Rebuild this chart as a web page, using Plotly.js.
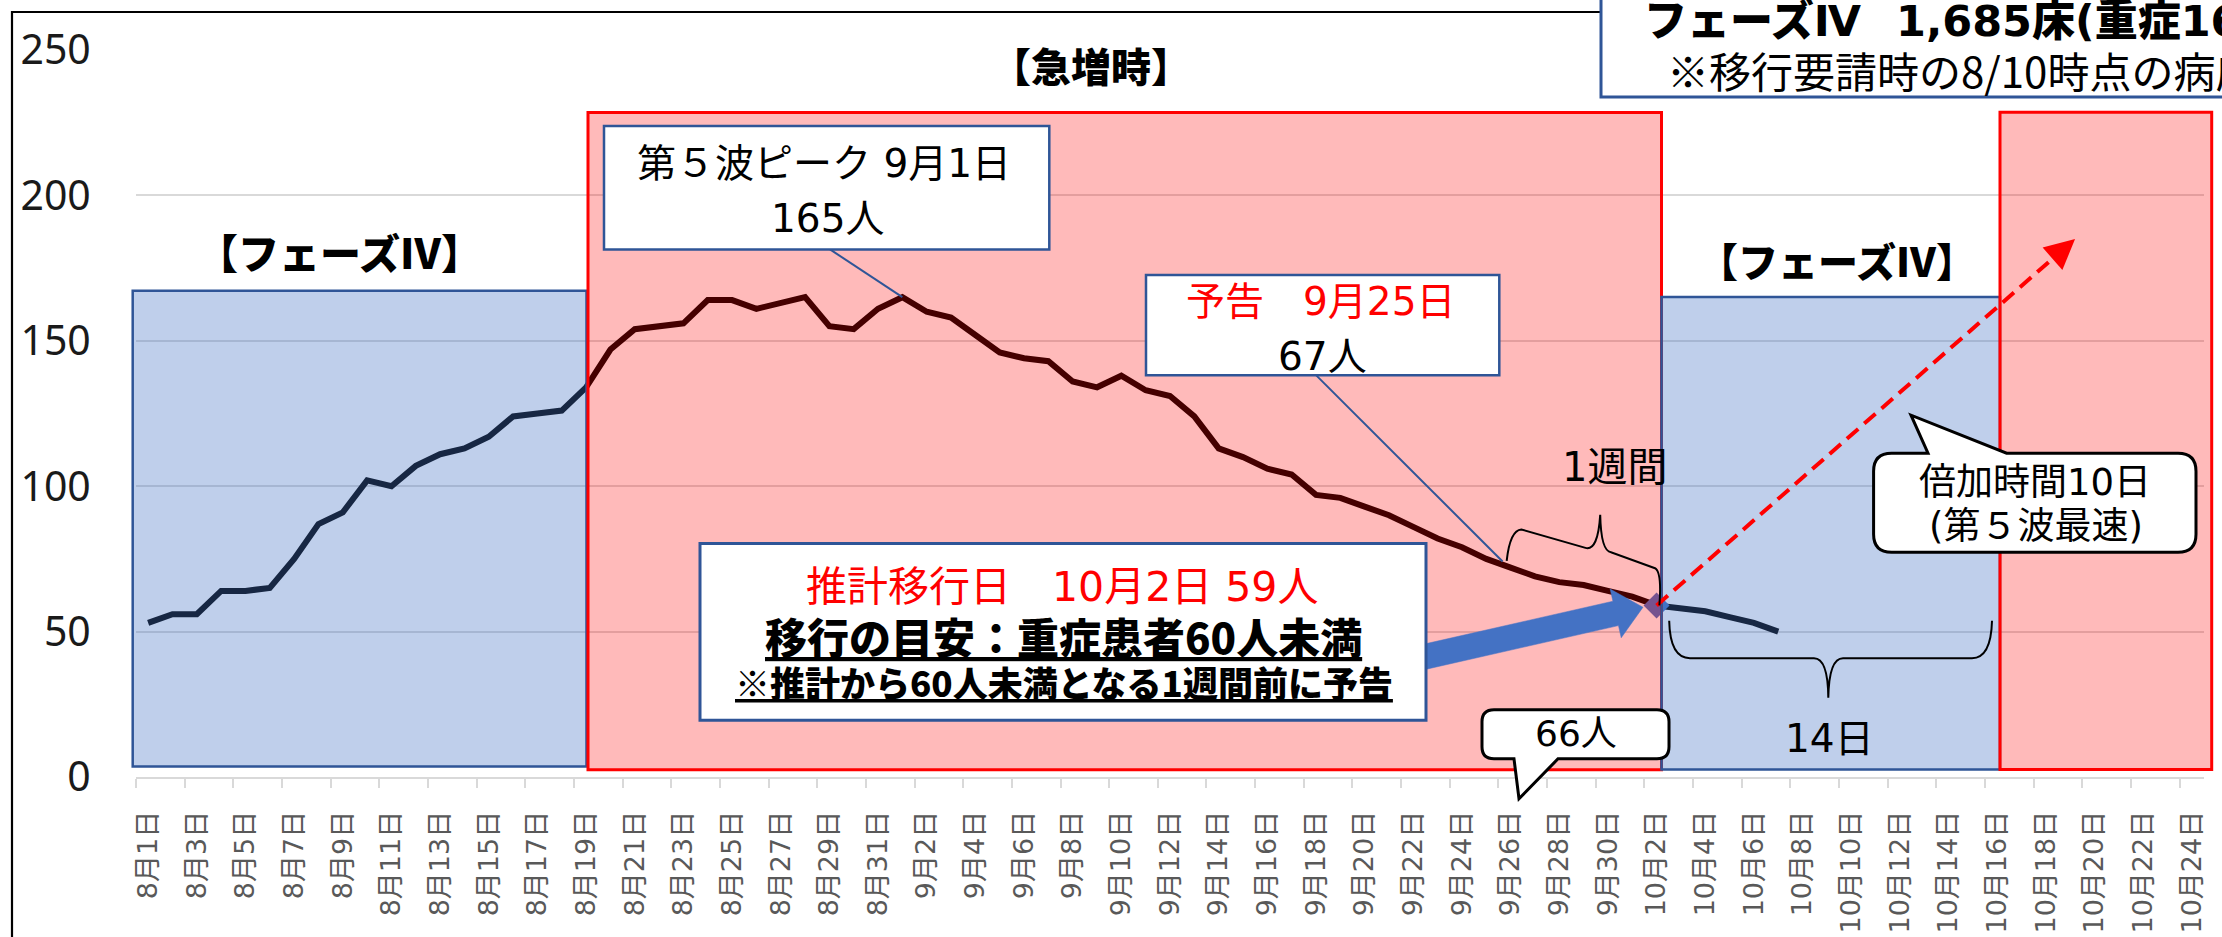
<!DOCTYPE html>
<html><head><meta charset="utf-8">
<script src="https://cdn.plot.ly/plotly-3.0.1.min.js"></script>
<style>html,body{margin:0;padding:0;background:#fff;}#chart{width:2222px;height:937px;}</style>
</head><body><div id="chart"></div>
<script>
// ---------- data ----------
const dateLabels = [
 "8月1日","8月2日","8月3日","8月4日","8月5日","8月6日","8月7日","8月8日","8月9日","8月10日",
 "8月11日","8月12日","8月13日","8月14日","8月15日","8月16日","8月17日","8月18日","8月19日","8月20日",
 "8月21日","8月22日","8月23日","8月24日","8月25日","8月26日","8月27日","8月28日","8月29日","8月30日","8月31日",
 "9月1日","9月2日","9月3日","9月4日","9月5日","9月6日","9月7日","9月8日","9月9日","9月10日",
 "9月11日","9月12日","9月13日","9月14日","9月15日","9月16日","9月17日","9月18日","9月19日","9月20日",
 "9月21日","9月22日","9月23日","9月24日","9月25日","9月26日","9月27日","9月28日","9月29日","9月30日",
 "10月1日","10月2日","10月3日","10月4日","10月5日","10月6日","10月7日","10月8日","10月9日","10月10日",
 "10月11日","10月12日","10月13日","10月14日","10月15日","10月16日","10月17日","10月18日","10月19日","10月20日",
 "10月21日","10月22日","10月23日","10月24日"
];
// severe patients, 8/1 .. 10/2
const severeActual = [
 53,56,56,64,64,65,75,87,91,102,
 100,107,111,113,117,124,125,126,134,147,
 154,155,156,164,164,161,163,165,155,154,161,
 165,160,158,152,146,144,143,136,134,138,
 133,131,124,113,110,106,104,97,96,93,
 90,86,82,79,75,72,69,67,66,64,
 62,59
];
// projection after the transition date, 10/2 .. 10/7
const severeProjected = [59,58,57,55,53,50];
const yTicks = [0,50,100,150,200,250];
const transitionDate = "10月2日";
const peakDate = "9月1日";
// doubling-time (10 days) guide arrow end, in (category position, value)
const doublingArrowEnd = [79.2, 185];

// ---------- geometry ----------
const W = 2222, H = 937, ML = 136, MR = 18, MT = 50, MB = 160.3;
const PW = W - ML - MR, PH = H - MT - MB;
const NCAT = dateLabels.length;
const PX = px => (px - ML) / PW;
const PY = py => (MT + PH - py) / PH;
const dX = i => ML + (i + 0.5) / NCAT * PW;      // category position -> pixel
const dY = v => MT + PH - v / 250 * PH;          // value -> pixel

const BLUE_FILL = 'rgba(68,114,196,0.34)';
const BLUE_LINE = '#2F5597';
const RED_FILL = 'rgba(255,0,0,0.27)';
const RED_LINE = '#FF0000';
const JP = '"Noto Sans CJK JP", "Noto Sans", sans-serif';
const JPD = '"DejaVu Sans", "Noto Sans CJK JP", sans-serif';

const tIdx = dateLabels.indexOf(transitionDate);
const pIdx = dateLabels.indexOf(peakDate);
const xActual = severeActual.map((_, i) => i);
const xProj = severeProjected.map((_, i) => tIdx + i);

const tickvals = [], ticktext = [], minorVals = [];
dateLabels.forEach((d, i) => { if (i % 2 === 0) { tickvals.push(i); ticktext.push(d); minorVals.push(i - 0.5); } });

// ---------- shapes ----------
const shapes = [];
function rectPx(x0, y0, x1, y1, fill, lc, lw) {
  shapes.push({type:'rect', xref:'paper', yref:'paper', layer:'above',
    x0:PX(x0), x1:PX(x1), y0:PY(y1), y1:PY(y0),
    fillcolor: fill, line:{color: lc, width: lw}});
}
function pathPx(cmds, fill, lc, lw) {
  const s = cmds.map(c => {
    if (c[0] === 'Z') return 'Z';
    const nums = [];
    for (let k = 1; k < c.length; k += 2) nums.push(PX(c[k]).toFixed(5) + ',' + PY(c[k+1]).toFixed(5));
    return c[0] + nums.join(' ');
  }).join(' ');
  shapes.push({type:'path', xref:'paper', yref:'paper', layer:'above', path: s,
    fillcolor: fill, line:{color: lc, width: lw}});
}
function linePx(x0, y0, x1, y1, color, width, dash) {
  shapes.push({type:'line', xref:'paper', yref:'paper', layer:'above',
    x0:PX(x0), y0:PY(y0), x1:PX(x1), y1:PY(y1), line:{color, width, dash: dash || 'solid'}});
}
function bubble(L, T, R, B, r, tail) {
  const c = [['M', L + r, T]];
  if (tail.side === 'top') { c.push(['L', tail.a, T], ['L', tail.tip[0], tail.tip[1]], ['L', tail.b, T]); }
  c.push(['L', R - r, T], ['Q', R, T, R, T + r], ['L', R, B - r], ['Q', R, B, R - r, B]);
  if (tail.side === 'bottom') { c.push(['L', tail.a, B], ['L', tail.tip[0], tail.tip[1]], ['L', tail.b, B]); }
  c.push(['L', L + r, B], ['Q', L, B, L, B - r], ['L', L, T + r], ['Q', L, T, L + r, T], ['Z']);
  pathPx(c, '#FFFFFF', '#000000', 3);
}

// outer chart frame
rectPx(12, 12, 2400, 1100, 'rgba(0,0,0,0)', '#000000', 2.2);
// phase regions (semi-transparent overlays)
rectPx(132.7, 290.7, 586.5, 766.3, BLUE_FILL, BLUE_LINE, 2.5);
rectPx(588, 112.5, 1661.5, 769.5, RED_FILL, RED_LINE, 3);
rectPx(1661.5, 297, 2000, 769.3, BLUE_FILL, BLUE_LINE, 2.5);
rectPx(2000, 112.3, 2211.7, 769.3, RED_FILL, RED_LINE, 3);

// red dashed doubling arrow
const dStart = [dX(tIdx), dY(severeActual[tIdx])];
const dEnd = [dX(doublingArrowEnd[0]), dY(doublingArrowEnd[1])];
(function(){
  const vx = dEnd[0]-dStart[0], vy = dEnd[1]-dStart[1], L = Math.hypot(vx, vy);
  linePx(dStart[0], dStart[1], dEnd[0] - vx/L*10, dEnd[1] - vy/L*10, RED_LINE, 4, '15px,8px');
})();

// callout pointer lines
linePx(830, 249.3, dX(pIdx), dY(severeActual[pIdx]), BLUE_LINE, 2);
linePx(1316, 375, 1502.6, 561.3, BLUE_LINE, 2);
// callout boxes
rectPx(604, 126, 1049.3, 249.3, '#FFFFFF', BLUE_LINE, 2.5);
rectPx(1146, 275, 1499.3, 375, '#FFFFFF', BLUE_LINE, 2.5);

// big blue block arrow toward the transition date
(function(){
  const T = [1405, 661], P = [1643, 607];
  const vx = P[0]-T[0], vy = P[1]-T[1], L = Math.hypot(vx, vy);
  const ux = vx/L, uy = vy/L, nx = -uy, ny = ux;
  const hs = 12.5, hh = 25, hl = 28;
  const Bx = P[0] - hl*ux, By = P[1] - hl*uy;
  pathPx([
    ['M', T[0]+hs*nx, T[1]+hs*ny], ['L', Bx+hs*nx, By+hs*ny], ['L', Bx+hh*nx, By+hh*ny],
    ['L', P[0], P[1]], ['L', Bx-hh*nx, By-hh*ny], ['L', Bx-hs*nx, By-hs*ny],
    ['L', T[0]-hs*nx, T[1]-hs*ny], ['Z']
  ], '#4472C4', '#4472C4', 0.5);
})();
rectPx(700, 543.3, 1426, 720, '#FFFFFF', BLUE_LINE, 3);

// title box (top right)
rectPx(1601, -20, 2400, 97, '#FFFFFF', BLUE_LINE, 3);

// speech bubbles
bubble(1482, 709.5, 1669, 758.5, 12, {side:'bottom', a:1558, tip:[1519, 798.5], b:1514});
bubble(1873.6, 453, 2196, 552, 18, {side:'top', a:1928, tip:[1911, 415], b:2006.6});

// braces
pathPx([['M',1506.7,560.7],['Q',1510,530,1521.4,529.3],['L',1585.5,547.7],['Q',1598,551,1600.2,514.6],
        ['Q',1601,551,1611,552],['L',1655,568],['Q',1662,572,1659.4,605.2]], 'rgba(0,0,0,0)', '#000000', 2);
pathPx([['M',1669.2,620.6],['Q',1670,658,1690,658],['L',1814,658],['Q',1828,658,1828.3,697.5],
        ['Q',1829,658,1843,658],['L',1972,658],['Q',1991,658,1992,620.6]], 'rgba(0,0,0,0)', '#000000', 2);

// ---------- annotations ----------
const annotations = [];
function txt(cx, cy, text, size, opts) {
  opts = opts || {};
  annotations.push({xref:'paper', yref:'paper', x:PX(cx), y:PY(cy), text, showarrow:false,
    xanchor: opts.anchor || 'center', yanchor:'middle', borderpad:0,
    font:{family: opts.family || JP, size, color: opts.color || '#000000', weight: opts.weight || 400}});
}
txt(1091, 65, '【急増時】', 40, {weight: 900});
txt(339, 251, '【フェーズⅣ】', 41, {weight: 900});
txt(1836.7, 260, '【フェーズⅣ】', 40, {weight: 900});
txt(1643, 21, 'フェーズⅣ', 43, {anchor:'left', weight: 900, family: JPD});
txt(1895, 21, '1,685床(重症160床)', 43, {anchor:'left', weight: 900, family: JPD});
txt(1666, 69, '※移行要請時の8/10時点の病床数', 42, {anchor:'left'});
txt(824, 163.3, '第５波ピーク 9月1日', 39, {family: JPD});
txt(827, 218.3, severeActual[pIdx] + '人', 39, {family: JPD});
txt(1320, 301.7, '予告　9月25日', 39, {color: RED_LINE, family: JPD});
txt(1322.5, 356.7, '67人', 39, {family: JPD});
txt(1062, 586.7, '推計移行日　10月2日 ' + severeActual[tIdx] + '人', 41, {color: RED_LINE, family: JPD});
txt(1063, 635, '<u>移行の目安：重症患者60人未満</u>', 42, {weight: 900});
txt(1063.5, 681.7, '<u>※推計から60人未満となる1週間前に予告</u>', 35, {weight: 900});
txt(1614, 466.7, '1週間', 40, {family: JPD});
txt(1829, 738.6, '14日', 39, {family: JPD});
txt(1575.6, 733.5, '66人', 36, {family: JPD});
txt(2035, 482, '倍加時間10日', 37, {family: JPD});
txt(2036, 526.5, '(第５波最速)', 37, {family: JPD});
// arrowhead of the doubling arrow
(function(){
  const vx = dEnd[0]-dStart[0], vy = dEnd[1]-dStart[1], L = Math.hypot(vx, vy);
  annotations.push({xref:'paper', yref:'paper', x:PX(dEnd[0]), y:PY(dEnd[1]), text:'',
    showarrow:true, arrowhead:2, arrowsize:1.5, arrowwidth:4, arrowcolor:RED_LINE,
    ax:-vx/L*16, ay:-vy/L*16, standoff:0});
})();

// ---------- traces ----------
const traces = [
  {x: xActual, y: severeActual, type:'scatter', mode:'lines', line:{color:'#000000', width:6}, hoverinfo:'skip'},
  {x: xProj, y: severeProjected, type:'scatter', mode:'lines', line:{color:'#000000', width:6}, hoverinfo:'skip'},
  {x: [tIdx], y: [severeActual[tIdx]], type:'scatter', mode:'markers',
   marker:{symbol:'diamond', size:20, color:'#4472C4'}, hoverinfo:'skip'}
];

const layout = {
  width: W, height: H,
  margin: {l: ML, r: MR, t: MT, b: MB, pad: 0},
  paper_bgcolor: '#FFFFFF', plot_bgcolor: '#FFFFFF',
  showlegend: false,
  xaxis: {
    range: [-0.5, NCAT - 0.5], tickmode: 'array', tickvals, ticktext, tickangle: -90,
    ticks: 'outside', ticklen: 21, tickcolor: 'rgba(0,0,0,0)', tickwidth: 1,
    tickfont: {family: '"DejaVu Sans", "Noto Sans CJK JP", sans-serif', size: 27, color: '#595959'},
    showgrid: false, zeroline: false, showline: true, linecolor: '#D9D9D9', linewidth: 2,
    minor: {tickmode: 'array', tickvals: minorVals, ticks: 'outside', ticklen: 9,
            tickcolor: '#D9D9D9', tickwidth: 2, showgrid: false},
    fixedrange: true
  },
  yaxis: {
    range: [0, 250], tickmode: 'array', tickvals: yTicks,
    ticks: 'outside', ticklen: 36, tickcolor: 'rgba(0,0,0,0)',
    tickfont: {family: '"Noto Sans", sans-serif', size: 41, color: '#1a1a1a'},
    showgrid: true, gridcolor: '#D9D9D9', gridwidth: 2, zeroline: false, showline: false,
    fixedrange: true
  },
  shapes, annotations
};

Plotly.newPlot('chart', traces, layout, {displayModeBar: false, staticPlot: true});
</script>
</body></html>
